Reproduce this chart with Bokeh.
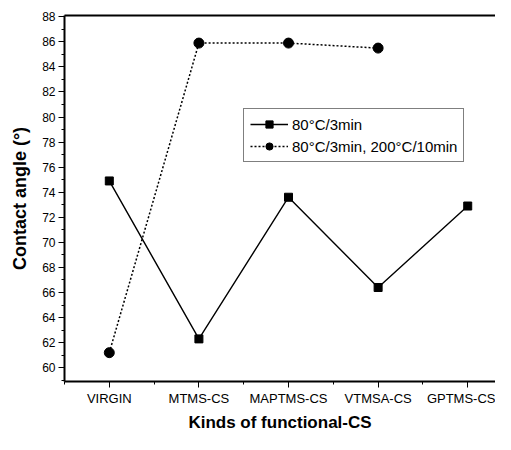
from bokeh.plotting import figure
from bokeh.models import FixedTicker, LinearAxis, Legend, LegendItem, Range1d
from bokeh.embed import file_html
from bokeh.resources import INLINE

categories = ["VIRGIN", "MTMS-CS", "MAPTMS-CS", "VTMSA-CS", "GPTMS-CS"]
series1_label = "80°C/3min"
series1 = [74.9, 62.3, 73.6, 66.4, 72.9]
series2_label = "80°C/3min, 200°C/10min"
series2 = [61.2, 85.9, 85.9, 85.5]
y_ticks = list(range(60, 89, 2))

x1 = list(range(len(series1)))
x2 = list(range(len(series2)))

FONT = "Liberation Sans"

p = figure(width=495, height=434, output_backend="svg", toolbar_location=None,
           x_range=Range1d(-0.5, 4.31), y_range=Range1d(58.9, 88.1),
           min_border_left=64, min_border_top=15, min_border_bottom=0, min_border_right=0)
p.background_fill_color = "white"
p.border_fill_color = "white"
p.outline_line_color = None
p.grid.visible = False

r1l = p.line(x1, series1, line_color="black", line_width=1.4)
r1m = p.scatter(x1, series1, marker="square", size=8, fill_color="black", line_color="black")
r2l = p.line(x2, series2, line_color="black", line_width=1.5, line_dash="2 2")
r2m = p.scatter(x2, series2, marker="circle", size=10, fill_color="black", line_color="black")

# x axis
xa = p.xaxis[0]
xa.ticker = FixedTicker(ticks=x1, minor_ticks=[i - 0.5 for i in range(len(categories) + 1)])
xa.major_label_overrides = {i: c for i, c in enumerate(categories)}
xa.axis_label = "Kinds of functional-CS"
xa.axis_label_text_font = FONT
xa.axis_label_text_font_style = "bold"
xa.axis_label_text_font_size = "17px"
xa.axis_label_text_color = "black"
xa.axis_label_standoff = 4
xa.major_label_text_font = FONT
xa.major_label_text_font_size = "13px"
xa.major_label_text_color = "black"
xa.major_label_standoff = 3
xa.axis_line_width = 2
xa.major_tick_in = 0
xa.major_tick_out = 6
xa.minor_tick_in = 0
xa.minor_tick_out = 3

# y axis
ya = p.yaxis[0]
ya.ticker = FixedTicker(ticks=y_ticks, minor_ticks=list(range(59, 89)))
ya.axis_label = "Contact angle (°)"
ya.axis_label_text_font = FONT
ya.axis_label_text_font_style = "bold"
ya.axis_label_text_font_size = "18px"
ya.axis_label_text_color = "black"
ya.axis_label_standoff = 9
ya.major_label_text_font = FONT
ya.major_label_text_font_size = "12px"
ya.major_label_text_color = "black"
ya.major_label_standoff = 3
ya.axis_line_width = 2
ya.major_tick_in = 0
ya.major_tick_out = 6
ya.minor_tick_in = 0
ya.minor_tick_out = 3

# top line
top = LinearAxis(ticker=FixedTicker(ticks=[]), axis_line_width=2,
                 major_tick_line_color=None, minor_tick_line_color=None,
                 major_label_text_font_size="0px")
p.add_layout(top, "above")

legend = Legend(items=[LegendItem(label=series1_label, renderers=[r1l, r1m]),
                       LegendItem(label=series2_label, renderers=[r2l, r2m])],
                location=(179, 219))
legend.border_line_color = "black"
legend.border_line_width = 1
legend.label_text_font = FONT
legend.label_text_font_size = "15px"
legend.label_text_color = "black"
legend.glyph_width = 38
legend.glyph_height = 18
legend.label_standoff = 4
legend.padding = 6
legend.spacing = 4
legend.margin = 0
legend.background_fill_alpha = 1
p.add_layout(legend, "center")

open("out.html", "w").write(file_html(p, INLINE))
